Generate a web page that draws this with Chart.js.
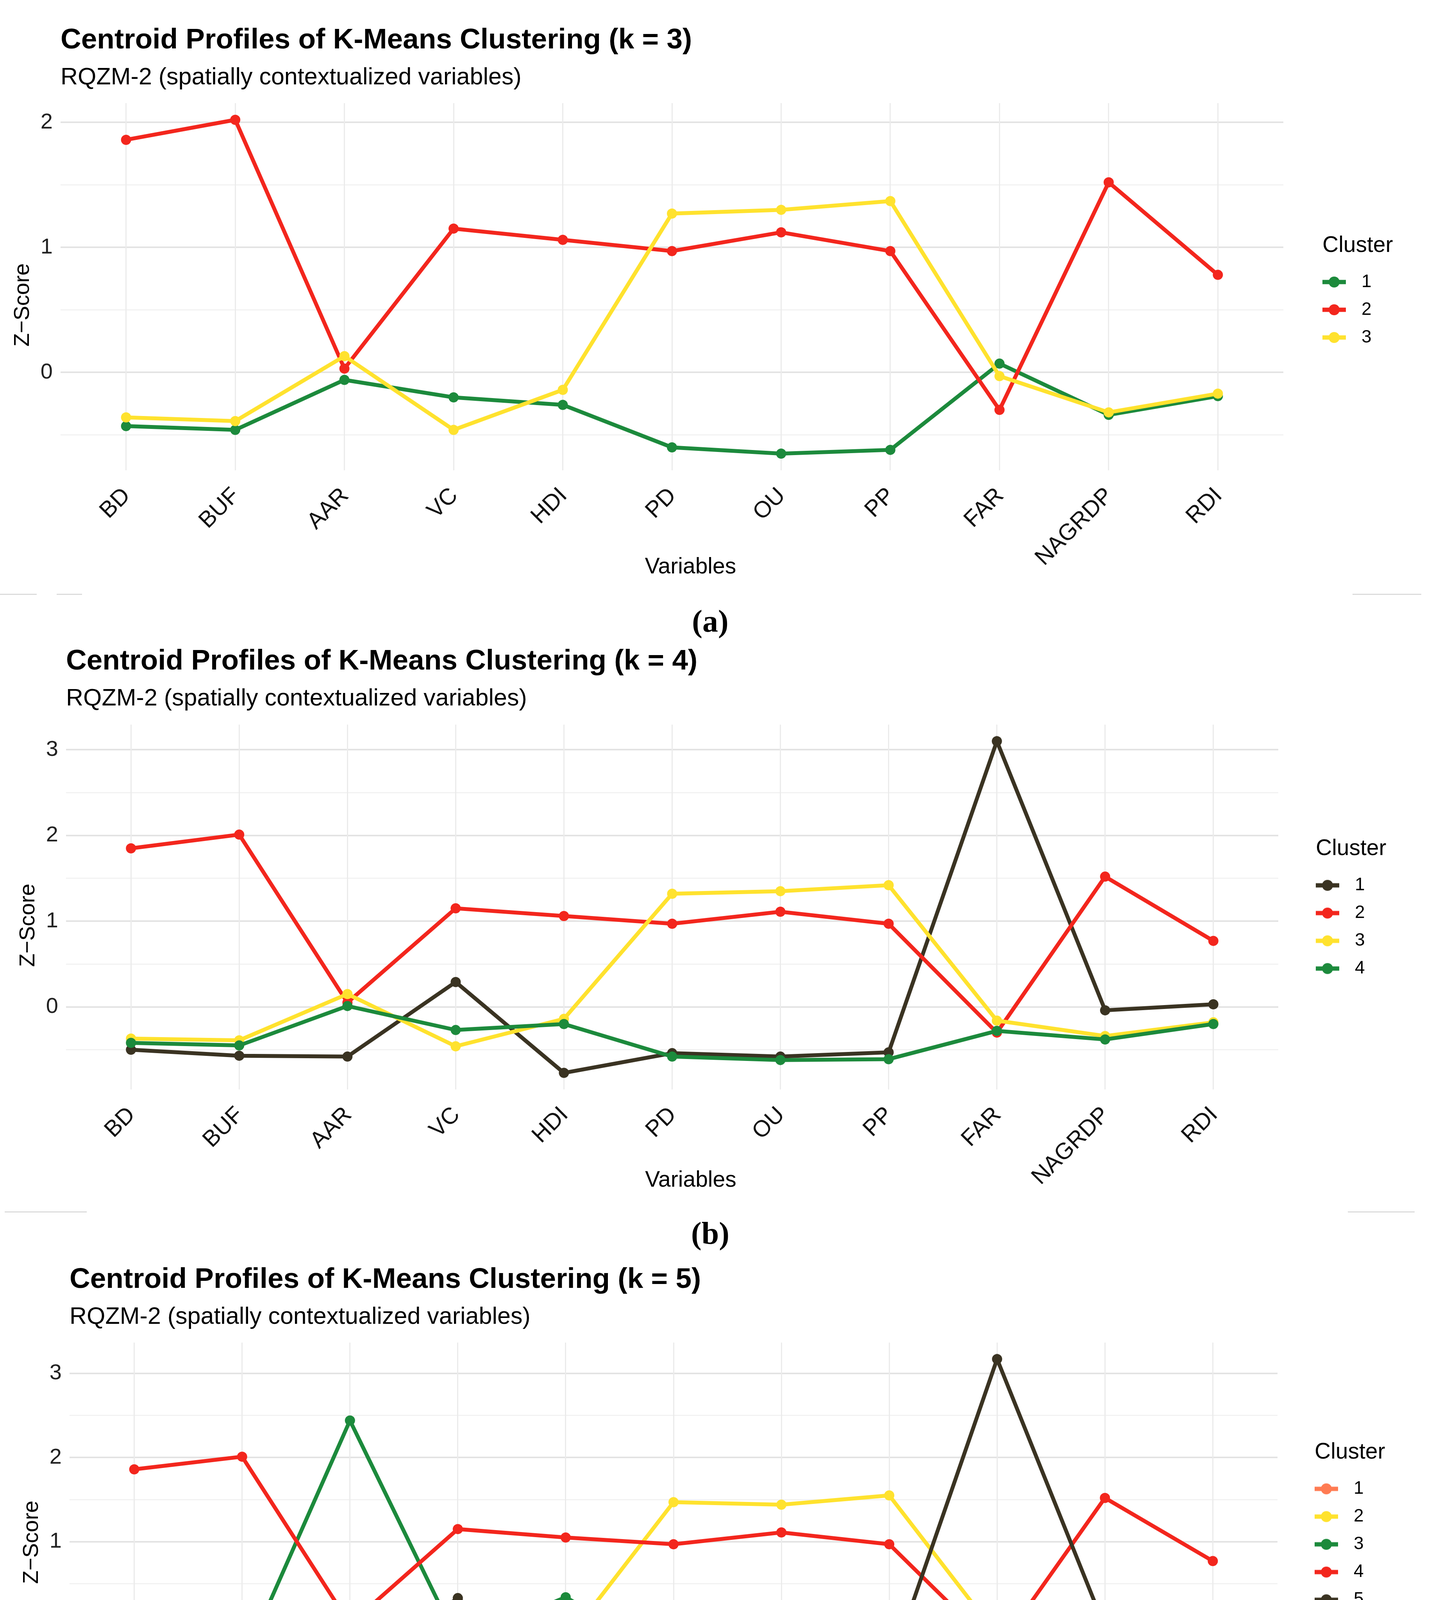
<!DOCTYPE html>
<html>
<head>
<meta charset="utf-8">
<title>Centroid Profiles of K-Means Clustering</title>
<script src="https://cdn.jsdelivr.net/npm/chart.js@4.4.0/dist/chart.umd.min.js"></script>
<style>
  html, body { margin: 0; padding: 0; background: #fff; }
  #page { position: relative; width: 3668px; height: 4825px; overflow: hidden; background: #fff; }
  #page canvas { position: absolute; left: 0; }
  .caption { position: absolute; left: 1618px; width: 400px; text-align: center; color: #000;
             font-family: 'Liberation Serif', 'Times New Roman', serif; font-weight: bold;
             font-size: 80px; line-height: 80px; }
  .rule { position: absolute; height: 3px; background: #dcdcdc; }
</style>
</head>
<body>
<div id="page">
  <canvas id="chartK3" width="3668" height="1490" style="top:0px"></canvas>
  <canvas id="chartK4" width="3668" height="1470" style="top:1590px"></canvas>
  <canvas id="chartK5" width="3668" height="1465" style="top:3173px"></canvas>

  <div class="rule" style="top:1520px; left:0px; width:94px"></div>
  <div class="rule" style="top:1520px; left:145px; width:65px"></div>
  <div class="rule" style="top:1520px; left:3462px; width:176px"></div>
  <div class="rule" style="top:3101px; left:12px; width:210px"></div>
  <div class="rule" style="top:3101px; left:3450px; width:171px"></div>
  <div class="rule" style="top:4679px; left:19px; width:93px"></div>
  <div class="rule" style="top:4679px; left:164px; width:70px"></div>
  <div class="rule" style="top:4679px; left:3443px; width:171px"></div>

  <div class="caption" style="top:1550px">(a)</div>
  <div class="caption" style="top:3117px">(b)</div>
  <div class="caption" style="top:4703px">(c)</div>
</div>
<script>
// variables on the x axis
const variables = ['BD', 'BUF', 'AAR', 'VC', 'HDI', 'PD', 'OU', 'PP', 'FAR', 'NAGRDP', 'RDI'];

// k = 3 centroids (z-scores)
const k3Cluster1 = [-0.43, -0.46, -0.06, -0.20, -0.26, -0.60, -0.65, -0.62, 0.07, -0.34, -0.19];
const k3Cluster2 = [1.86, 2.02, 0.03, 1.15, 1.06, 0.97, 1.12, 0.97, -0.30, 1.52, 0.78];
const k3Cluster3 = [-0.36, -0.39, 0.13, -0.46, -0.14, 1.27, 1.30, 1.37, -0.03, -0.32, -0.17];

// k = 4 centroids
const k4Cluster1 = [-0.50, -0.57, -0.58, 0.29, -0.77, -0.54, -0.58, -0.53, 3.10, -0.04, 0.03];
const k4Cluster2 = [1.85, 2.01, 0.05, 1.15, 1.06, 0.97, 1.11, 0.97, -0.30, 1.52, 0.77];
const k4Cluster3 = [-0.37, -0.39, 0.15, -0.46, -0.14, 1.32, 1.35, 1.42, -0.16, -0.34, -0.18];
const k4Cluster4 = [-0.42, -0.45, 0.01, -0.27, -0.20, -0.58, -0.62, -0.61, -0.28, -0.38, -0.20];

// k = 5 centroids
const k5Cluster1 = [-0.41, -0.44, -0.34, -0.30, -0.28, -0.57, -0.61, -0.58, -0.26, -0.31, -0.21];
const k5Cluster2 = [-0.36, -0.39, -0.10, -0.45, -0.19, 1.47, 1.44, 1.55, -0.11, -0.31, -0.18];
const k5Cluster3 = [-0.45, -0.46, 2.44, -0.19, 0.34, -0.41, -0.39, -0.44, -0.30, -0.73, -0.12];
const k5Cluster4 = [1.86, 2.01, 0.02, 1.15, 1.05, 0.97, 1.11, 0.97, -0.29, 1.52, 0.77];
const k5Cluster5 = [-0.48, -0.57, -0.57, 0.33, -0.75, -0.52, -0.58, -0.53, 3.17, -0.02, 0.05];

// y ticks (labels only on whole numbers, the halves are minor grid lines)
const yTicksK3 = [-0.5, 0, 0.5, 1, 1.5, 2];
const yTicksK4 = [-0.5, 0, 0.5, 1, 1.5, 2, 2.5, 3];
const yTicksK5 = [-0.5, 0, 0.5, 1, 1.5, 2, 2.5, 3];

const subtitle = 'RQZM-2 (spatially contextualized variables)';

const green = '#1c8a3c';
const red = '#f3261d';
const yellow = '#ffe22e';
const dark = '#3a3322';
const orange = '#ff7b52';

Chart.defaults.font.family = "'Liberation Sans', Arial, sans-serif";
Chart.defaults.color = '#000';

// first guess of the legend width, corrected after the first layout
const legendWidth = 230;

// legend key: short line with a dot, drawn in the left part of the image
function legendGlyph(color) {
    const c = document.createElement('canvas');
    c.width = 102;
    c.height = 34;
    const g = c.getContext('2d');
    g.strokeStyle = color;
    g.lineWidth = 11;
    g.beginPath();
    g.moveTo(0, 17);
    g.lineTo(60, 17);
    g.stroke();
    g.fillStyle = color;
    g.beginPath();
    g.arc(30, 17, 14, 0, Math.PI * 2);
    g.fill();
    return c;
}

function drawPanel(p) {
    const all = p.series.flatMap(s => s.data);
    const lo = Math.min(...all);
    const hi = Math.max(...all);
    const expand = (hi - lo) * 0.05;

    const datasets = p.series.map((s, i) => ({
        label: s.name,
        data: s.data.map((v, j) => ({ x: j, y: v })),
        borderColor: s.color,
        backgroundColor: s.color,
        pointBackgroundColor: s.color,
        borderWidth: 10,
        pointRadius: 13,
        pointBorderWidth: 0,
        tension: 0,
        order: p.series.length - i,
        xAxisID: 'x',
        yAxisID: 'y'
    }));

    const chart = new Chart(document.getElementById(p.id), {
        type: 'line',
        data: { datasets: datasets },
        options: {
            responsive: false,
            animation: false,
            devicePixelRatio: 1,
            layout: { padding: { left: 0, top: 0, bottom: 0, right: 3668 - p.legendLeft - legendWidth } },
            scales: {
                y: {
                    type: 'linear',
                    position: 'left',
                    min: lo - expand,
                    max: hi + expand,
                    afterBuildTicks: scale => { scale.ticks = p.yTicks.map(v => ({ value: v })); },
                    afterFit: scale => { scale.width = p.left; },
                    border: { display: false },
                    grid: {
                        drawTicks: false,
                        color: ctx => Number.isInteger(ctx.tick.value) ? '#e3e3e3' : '#f0f0f0',
                        lineWidth: ctx => Number.isInteger(ctx.tick.value) ? 4 : 2.5
                    },
                    ticks: {
                        padding: 20,
                        color: '#222',
                        font: { size: 56 },
                        callback: v => Number.isInteger(v) ? String(v) : ''
                    },
                    title: {
                        display: true,
                        text: 'Z\u2212Score      ',
                        color: '#000',
                        font: { size: 56 },
                        padding: { top: p.left - 130, bottom: 0 }
                    }
                },
                x: {
                    type: 'linear',
                    position: 'bottom',
                    min: -0.6,
                    max: variables.length - 0.4,
                    afterBuildTicks: scale => { scale.ticks = variables.map((v, i) => ({ value: i })); },
                    afterFit: scale => { scale.height = p.height - p.plotBottom; },
                    border: { display: false },
                    grid: { drawTicks: false, color: '#ebebeb', lineWidth: 3 },
                    ticks: {
                        autoSkip: false,
                        minRotation: 45,
                        maxRotation: 45,
                        padding: 31,
                        labelOffset: 2,
                        color: '#111',
                        font: { size: 59 },
                        callback: v => variables[v]
                    },
                    title: {
                        display: true,
                        text: '      Variables',
                        color: '#000',
                        font: { size: 57 },
                        padding: { top: 0, bottom: 4 }
                    }
                },
                // empty axis that only keeps the gap between panel and legend
                gap: {
                    type: 'linear',
                    position: 'right',
                    display: true,
                    grid: { display: false },
                    border: { display: false },
                    ticks: { display: false },
                    afterFit: scale => { scale.width = p.legendLeft - p.right; }
                }
            },
            plugins: {
                title: {
                    display: true,
                    text: p.title,
                    align: 'start',
                    fullSize: false,
                    color: '#000',
                    font: { size: 73, weight: 'bold', lineHeight: 1.2 },
                    padding: { top: 60, bottom: 0 }
                },
                subtitle: {
                    display: true,
                    text: subtitle,
                    align: 'start',
                    fullSize: false,
                    color: '#000',
                    font: { size: 61, lineHeight: 1.2 },
                    padding: { top: 15, bottom: p.plotTop - 235.8 }
                },
                legend: {
                    position: 'right',
                    align: 'center',
                    title: {
                        display: true,
                        text: 'Cluster',
                        position: 'start',
                        color: '#000',
                        font: { size: 57, lineHeight: 1.2 },
                        padding: { top: 22.5, bottom: 5 }
                    },
                    labels: {
                        usePointStyle: true,
                        pointStyleWidth: 52,
                        padding: 25,
                        color: '#000',
                        font: { size: 46 },
                        sort: (a, b) => a.datasetIndex - b.datasetIndex,
                        generateLabels: chart => {
                            const items = Chart.defaults.plugins.legend.labels.generateLabels(chart);
                            items.forEach(it => {
                                it.pointStyle = legendGlyph(chart.data.datasets[it.datasetIndex].borderColor);
                                // trailing spaces widen the (clipped) legend box so the title fits
                                it.text = it.text + '\u00a0\u00a0\u00a0\u00a0\u00a0\u00a0\u00a0';
                            });
                            return items;
                        }
                    }
                },
                tooltip: { enabled: false }
            }
        }
    });

    // put the legend (and so the panel's right edge) where the reference has it
    const shift = chart.legend.left - p.legendLeft;
    if (Math.abs(shift) > 0.5) {
        chart.options.layout.padding.right += shift;
        chart.update();
    }
}

drawPanel({
    id: 'chartK3', title: 'Centroid Profiles of K-Means Clustering (k = 3)',
    height: 1490, left: 155, right: 3285, plotTop: 264, plotBottom: 1204, legendLeft: 3385,
    yTicks: yTicksK3,
    series: [
        { name: '1', data: k3Cluster1, color: green },
        { name: '2', data: k3Cluster2, color: red },
        { name: '3', data: k3Cluster3, color: yellow }
    ]
});

drawPanel({
    id: 'chartK4', title: 'Centroid Profiles of K-Means Clustering (k = 4)',
    height: 1470, left: 169, right: 3272, plotTop: 265, plotBottom: 1199, legendLeft: 3368,
    yTicks: yTicksK4,
    series: [
        { name: '1', data: k4Cluster1, color: dark },
        { name: '2', data: k4Cluster2, color: red },
        { name: '3', data: k4Cluster3, color: yellow },
        { name: '4', data: k4Cluster4, color: green }
    ]
});

drawPanel({
    id: 'chartK5', title: 'Centroid Profiles of K-Means Clustering (k = 5)',
    height: 1465, left: 178, right: 3270, plotTop: 264, plotBottom: 1193, legendLeft: 3365,
    yTicks: yTicksK5,
    series: [
        { name: '1', data: k5Cluster1, color: orange },
        { name: '2', data: k5Cluster2, color: yellow },
        { name: '3', data: k5Cluster3, color: green },
        { name: '4', data: k5Cluster4, color: red },
        { name: '5', data: k5Cluster5, color: dark }
    ]
});
</script>
</body>
</html>
